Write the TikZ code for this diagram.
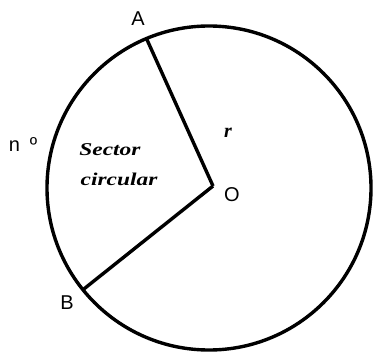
\documentclass[tikz,border=0pt]{standalone}
\usepackage{fontspec}
\setmainfont{Liberation Serif}
\setsansfont{Liberation Sans}
\usepackage{tikz}
\usetikzlibrary{calc}

\tikzset{
  pointlabel/.style={font=\sffamily\fontsize{20}{22}\selectfont},
  sectortext/.style={font=\bfseries\itshape\fontsize{18}{20}\selectfont,xscale=1.3},
}

\begin{document}
\begin{tikzpicture}[x=1pt,y=1pt,line width=3.4pt]
\path[use as bounding box] (0,0) rectangle (374,354);

% circle and its centre
\coordinate (C) at (209,166);
\draw (C) circle (162);
\coordinate (O) at (213,168);
\coordinate (A) at ($(C)+(112.7:162)$);
\coordinate (B) at ($(C)+(218.9:162)$);

% radii
\draw (O) -- (A);
\draw (O) -- (B);

% labels
\node[pointlabel] (labA) at (138,335) {A};
\node[pointlabel] (labB) at (67,51) {B};
\node[pointlabel] (labO) at (232,159) {O};
\node[pointlabel] (labn) at (23,209) {n\hspace{0.5em}º};
\node[font=\bfseries\itshape\fontsize{20}{22}\selectfont] (labr) at (228,221) {r};
\node[sectortext] (sec1) at (110,204) {Sector};
\node[sectortext] (sec2) at (119,175) {circular};
\end{tikzpicture}
\end{document}
